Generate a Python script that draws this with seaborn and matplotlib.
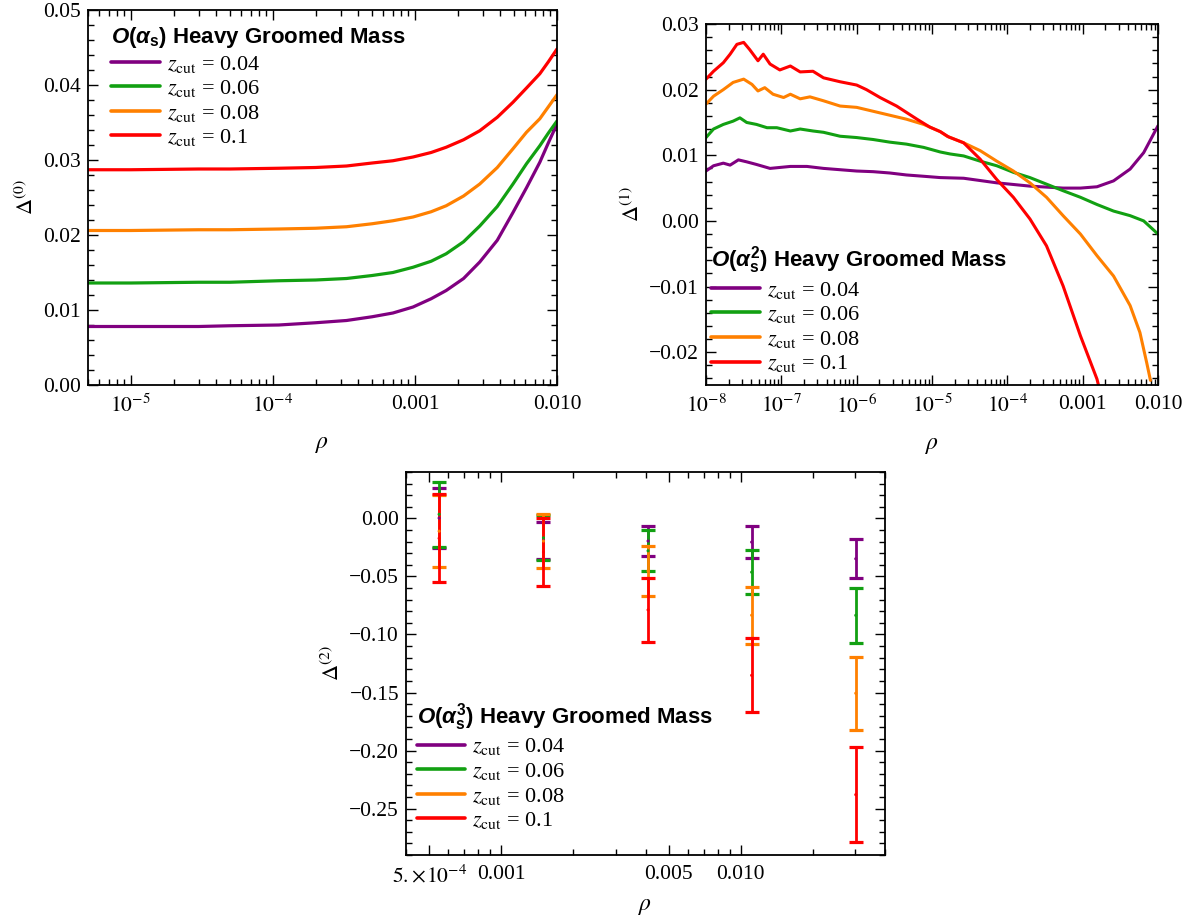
import numpy as np
import pandas as pd
import matplotlib
matplotlib.use("Agg")
import matplotlib.pyplot as plt
import seaborn as sns
from matplotlib.font_manager import FontProperties
from matplotlib.lines import Line2D
from matplotlib.ticker import FixedLocator, FixedFormatter, AutoMinorLocator, NullFormatter, LogLocator

sns.set_style("ticks")
plt.rcParams['font.family'] = ['Liberation Serif', 'DejaVu Serif']
plt.rcParams['mathtext.fontset'] = 'stix'
plt.rcParams['mathtext.rm'] = 'Liberation Sans:bold'
plt.rcParams['mathtext.it'] = 'Liberation Sans:italic:bold'
plt.rcParams['mathtext.bf'] = 'Liberation Sans:bold'
plt.rcParams['text.color'] = 'black'
plt.rcParams['axes.labelcolor'] = 'black'
plt.rcParams['xtick.color'] = 'black'
plt.rcParams['ytick.color'] = 'black'

# ---- data ----
zcuts = [r"$z_{\mathrm{cut}}$ = 0.04", r"$z_{\mathrm{cut}}$ = 0.06",
         r"$z_{\mathrm{cut}}$ = 0.08", r"$z_{\mathrm{cut}}$ = 0.1"]
colors = ["#800080", "#12a012", "#ff8000", "#ff0000"]

# panel 1: O(alpha_s)
rho0 = [5e-6, 1e-5, 3e-5, 5e-5, 1.1e-4, 2e-4, 3.3e-4, 5e-4, 7e-4, 9.7e-4, 1.3e-3,
        1.66e-3, 2.2e-3, 2.86e-3, 3.8e-3, 4.9e-3, 6.1e-3, 7.57e-3, 8.7e-3, 1e-2]
d0_004 = [0.0078, 0.0078, 0.0078, 0.0079, 0.0080, 0.0083, 0.0086, 0.0091, 0.0096, 0.0104,
          0.0115, 0.0126, 0.0142, 0.0164, 0.0193, 0.0230, 0.0263, 0.0297, 0.0323, 0.0348]
d0_006 = [0.0136, 0.0136, 0.0137, 0.0137, 0.0139, 0.0140, 0.0142, 0.0146, 0.0150, 0.0157,
          0.0165, 0.0175, 0.0191, 0.0212, 0.0238, 0.0268, 0.0295, 0.0319, 0.0336, 0.0352]
d0_008 = [0.0206, 0.0206, 0.0207, 0.0207, 0.0208, 0.0209, 0.0211, 0.0215, 0.0219, 0.0224,
          0.0231, 0.0239, 0.0252, 0.0268, 0.0290, 0.0315, 0.0337, 0.0355, 0.0371, 0.0387]
d0_010 = [0.0287, 0.0287, 0.0288, 0.0288, 0.0289, 0.0290, 0.0292, 0.0296, 0.0299, 0.0304,
          0.0310, 0.0317, 0.0327, 0.0339, 0.0357, 0.0377, 0.0396, 0.0415, 0.0431, 0.0448]

# panel 2: O(alpha_s^2), log10(rho) and values
lr1_004 = [-8.0, -7.90, -7.77, -7.68, -7.57, -7.46, -7.33, -7.15, -6.88, -6.66, -6.44,
           -6.22, -6.00, -5.78, -5.56, -5.34, -5.11, -4.89, -4.58, -4.14, -3.70, -3.26,
           -3.03, -2.81, -2.59, -2.37, -2.19, -2.0]
d1_004 = [0.0076, 0.0084, 0.0088, 0.0085, 0.0093, 0.0090, 0.0086, 0.0080, 0.0083, 0.0083,
          0.0080, 0.0078, 0.0076, 0.0075, 0.0073, 0.0070, 0.0068, 0.0066, 0.0065, 0.0058,
          0.0053, 0.0050, 0.0050, 0.0052, 0.0061, 0.0079, 0.0104, 0.0145]
lr1_006 = [-8.0, -7.90, -7.77, -7.64, -7.55, -7.46, -7.33, -7.19, -7.06, -6.88, -6.75,
           -6.58, -6.44, -6.22, -6.00, -5.78, -5.56, -5.34, -5.11, -4.89, -4.76, -4.58,
           -4.36, -4.14, -3.92, -3.70, -3.48, -3.26, -3.03, -2.81, -2.59, -2.37, -2.19, -2.0]
d1_006 = [0.0127, 0.0140, 0.0147, 0.0152, 0.0157, 0.0150, 0.0147, 0.0142, 0.0142, 0.0137,
          0.0140, 0.0137, 0.0135, 0.0129, 0.0127, 0.0124, 0.0120, 0.0117, 0.0112, 0.0105,
          0.0102, 0.0099, 0.0091, 0.0084, 0.0074, 0.0066, 0.0056, 0.0046, 0.0036, 0.0025,
          0.0015, 0.0008, 0.0000, -0.0020]
lr1_008 = [-8.0, -7.90, -7.77, -7.64, -7.50, -7.39, -7.31, -7.22, -7.11, -6.97, -6.88,
           -6.75, -6.62, -6.44, -6.22, -6.00, -5.78, -5.56, -5.34, -5.11, -4.89, -4.80,
           -4.58, -4.36, -4.14, -3.92, -3.70, -3.48, -3.26, -3.03, -2.81, -2.59, -2.37,
           -2.24, -2.15, -2.10]
d1_008 = [0.0178, 0.0190, 0.0200, 0.0211, 0.0216, 0.0208, 0.0198, 0.0203, 0.0193, 0.0188,
          0.0193, 0.0186, 0.0189, 0.0183, 0.0175, 0.0173, 0.0167, 0.0161, 0.0155, 0.0147,
          0.0136, 0.0129, 0.0119, 0.0107, 0.0091, 0.0076, 0.0058, 0.0036, 0.0008, -0.0020,
          -0.0053, -0.0084, -0.0129, -0.0170, -0.0216, -0.0243]
lr1_010 = [-8.0, -7.90, -7.77, -7.68, -7.59, -7.50, -7.42, -7.31, -7.24, -7.15, -7.02,
           -6.88, -6.75, -6.58, -6.44, -6.22, -6.00, -5.87, -5.69, -5.47, -5.20, -5.03,
           -4.89, -4.78, -4.58, -4.36, -4.14, -3.92, -3.70, -3.48, -3.26, -3.03, -2.81, -2.78]
d1_010 = [0.0216, 0.0228, 0.0241, 0.0254, 0.0269, 0.0272, 0.0261, 0.0244, 0.0254, 0.0239,
          0.0230, 0.0236, 0.0227, 0.0228, 0.0218, 0.0212, 0.0207, 0.0200, 0.0188, 0.0175,
          0.0155, 0.0143, 0.0136, 0.0128, 0.0119, 0.0094, 0.0063, 0.0036, 0.0003, -0.0038,
          -0.0099, -0.0175, -0.0241, -0.0255]

# panel 3: O(alpha_s^3) error bars (upper / lower ends)
rho2 = [0.00055, 0.0015, 0.0041, 0.0111, 0.0302]
hi_004 = [0.0259, -0.0030, -0.0064, -0.0066, -0.0178]
lo_004 = [-0.0253, -0.0350, -0.0325, -0.0342, -0.0517]
hi_006 = [0.0316, 0.0026, -0.0104, -0.0276, -0.0598]
lo_006 = [-0.0245, -0.0360, -0.0454, -0.0650, -0.1072]
hi_008 = [0.0200, 0.0040, -0.0236, -0.0590, -0.1193]
lo_008 = [-0.0420, -0.0430, -0.0670, -0.1078, -0.1820]
hi_010 = [0.0207, 0.0000, -0.0512, -0.1034, -0.1970]
lo_010 = [-0.0550, -0.0580, -0.1064, -0.1670, -0.2790]

df0 = pd.concat([pd.DataFrame({"rho": rho0, "delta": d, "zcut": z})
                 for d, z in zip([d0_004, d0_006, d0_008, d0_010], zcuts)])
df1 = pd.concat([pd.DataFrame({"rho": 10 ** np.array(lr), "delta": d, "zcut": z})
                 for lr, d, z in zip([lr1_004, lr1_006, lr1_008, lr1_010],
                                     [d1_004, d1_006, d1_008, d1_010], zcuts)])
df2 = pd.concat([pd.DataFrame({"rho": rho2, "hi": h, "lo": l, "zcut": z})
                 for h, l, z in zip([hi_004, hi_006, hi_008, hi_010],
                                    [lo_004, lo_006, lo_008, lo_010], zcuts)])
df2["mid"] = (df2["hi"] + df2["lo"]) / 2
df2["err"] = (df2["hi"] - df2["lo"]) / 2

# ---- figure ----
W, H = 1193, 919
fig = plt.figure(figsize=(W / 100, H / 100), dpi=100)
ax1 = fig.add_axes([88 / W, 1 - 385 / H, 469 / W, 375 / H])
ax2 = fig.add_axes([706 / W, 1 - 385 / H, 452 / W, 361 / H])
ax3 = fig.add_axes([406 / W, 1 - 855 / H, 479 / W, 383 / H])

sns.lineplot(data=df0, x="rho", y="delta", hue="zcut", hue_order=zcuts, palette=colors,
             lw=2.3, errorbar=None, legend=False, ax=ax1)
sns.lineplot(data=df1, x="rho", y="delta", hue="zcut", hue_order=zcuts, palette=colors,
             lw=2.2, errorbar=None, legend=False, ax=ax2)
for z, c in zip(zcuts, colors):
    sub = df2[df2.zcut == z]
    ax3.errorbar(sub.rho, sub.mid, yerr=sub.err, fmt="none", ecolor=c, elinewidth=2.0,
                 capsize=5, capthick=2.3)
sns.scatterplot(data=df2, x="rho", y="mid", hue="zcut", hue_order=zcuts, palette=colors,
                s=5, linewidth=0, legend=False, ax=ax3, zorder=5)

tick_fs = 15.5
minus = "\u2212"


def style(ax, xlim, ylim, xt, xl, yt, ylab, xpad=12):
    ax.set_xscale("log")
    ax.set_xlim(*xlim)
    ax.set_ylim(*ylim)
    ax.xaxis.set_major_locator(FixedLocator(xt))
    ax.xaxis.set_major_formatter(FixedFormatter(xl))
    ax.xaxis.set_minor_locator(LogLocator(base=10, subs=np.arange(2, 10), numticks=50))
    ax.xaxis.set_minor_formatter(NullFormatter())
    ax.yaxis.set_major_locator(FixedLocator(yt))
    ax.yaxis.set_major_formatter(FixedFormatter(
        [("%.2f" % v).replace("-", minus) for v in yt]))
    ax.yaxis.set_minor_locator(AutoMinorLocator(5))
    ax.tick_params(which="both", direction="in", top=True, right=True, width=1,
                   labelsize=tick_fs, colors="black")
    ax.tick_params(which="major", length=7)
    ax.tick_params(which="minor", length=4)
    ax.tick_params(axis="x", pad=7)
    ax.tick_params(axis="y", pad=5)
    for s in ax.spines.values():
        s.set_linewidth(1.3)
        s.set_color("black")
    ax.set_xlabel(r"$\rho$", fontsize=17, labelpad=xpad)
    ax.set_ylabel(ylab, fontsize=16, labelpad=4)


style(ax1, (5e-6, 1e-2), (0, 0.05), [1e-5, 1e-4, 1e-3, 1e-2],
      [r"$10^{-5}$", r"$10^{-4}$", "0.001", "0.010"],
      [0, 0.01, 0.02, 0.03, 0.04, 0.05], r"$\Delta^{(0)}$")
style(ax2, (1e-8, 1e-2), (-0.025, 0.03), [1e-8, 1e-7, 1e-6, 1e-5, 1e-4, 1e-3, 1e-2],
      [r"$10^{-8}$", r"$10^{-7}$", r"$10^{-6}$", r"$10^{-5}$", r"$10^{-4}$", "0.001", "0.010"],
      [-0.02, -0.01, 0, 0.01, 0.02, 0.03], r"$\Delta^{(1)}$")
style(ax3, (4e-4, 0.04), (-0.29, 0.04), [5e-4, 1e-3, 5e-3, 1e-2],
      [r"$5.\!\times\!10^{-4}$", "0.001", "0.005", "0.010"],
      [0, -0.05, -0.10, -0.15, -0.20, -0.25], r"$\Delta^{(2)}$", xpad=6)

title_fp = FontProperties(family="Liberation Sans", weight="bold", size=16,
                          math_fontfamily="custom")
entry_fp = FontProperties(family="Liberation Serif", size=16, math_fontfamily="stix")
handles = [Line2D([], [], color=c, lw=2.6) for c in colors]
titles = [r"$\mathit{O}(\alpha_{\mathrm{s}})$ Heavy Groomed Mass",
          r"$\mathit{O}(\alpha_{\mathrm{s}}^{2})$ Heavy Groomed Mass",
          r"$\mathit{O}(\alpha_{\mathrm{s}}^{3})$ Heavy Groomed Mass"]
anchors = [(0.049, 0.96), (0.012, 0.39), (0.022, 0.402)]
for ax, t, a in zip([ax1, ax2, ax3], titles, anchors):
    leg = ax.legend(handles, zcuts, loc="upper left", bbox_to_anchor=a, frameon=False,
                    prop=entry_fp, title=t, title_fontproperties=title_fp,
                    alignment="left", handlelength=2.2, handletextpad=0.3,
                    labelspacing=0.16, borderpad=0, borderaxespad=0)

fig.savefig("out.png", dpi=100)
